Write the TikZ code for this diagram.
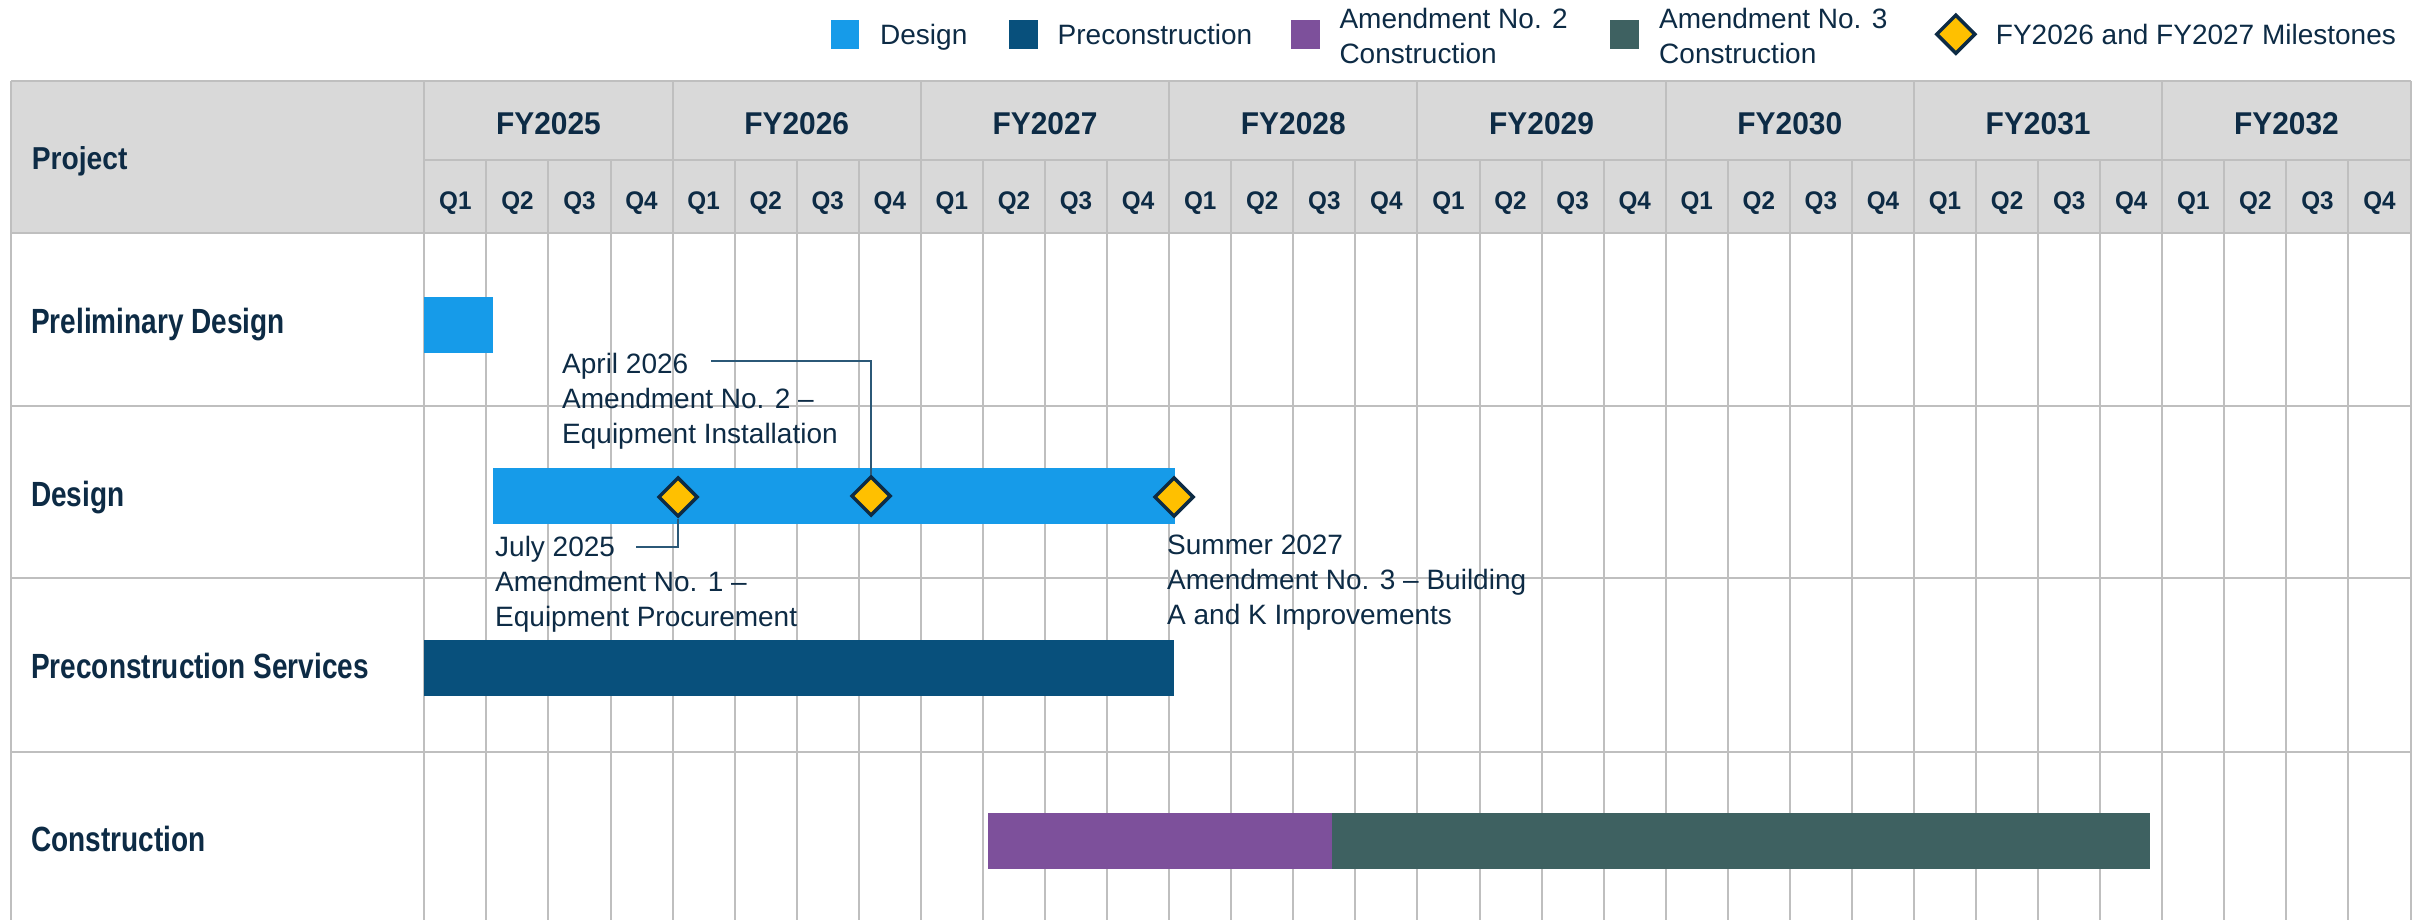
\documentclass[tikz,border=0pt]{standalone}
\usepackage{fontspec}
\setmainfont{Liberation Sans}
\newfontfamily\rowfont{Liberation Sans}[FakeStretch=0.80]
\newfontfamily\projfont{Liberation Sans}[FakeStretch=0.89]
\newfontfamily\hdrfont{Liberation Sans}[FakeStretch=0.95]
\usetikzlibrary{shapes.geometric}
\definecolor{ink}{HTML}{0D2B45}
\definecolor{gridc}{HTML}{BFBFBF}
\definecolor{hdrfill}{HTML}{D9D9D9}
\definecolor{dblue}{HTML}{169BE9}
\definecolor{pblue}{HTML}{08507C}
\definecolor{amdtwo}{HTML}{7D509B}
\definecolor{amdthree}{HTML}{3E6161}
\definecolor{gold}{HTML}{FFC000}
\definecolor{callc}{HTML}{2B5877}
\tikzset{
  gridline/.style={draw=gridc, line width=2pt},
  yearlbl/.style={anchor=base, inner sep=0pt, text=ink, font=\hdrfont\bfseries\fontsize{31.5}{38}\selectfont},
  qlbl/.style={anchor=base, inner sep=0pt, text=ink, font=\hdrfont\bfseries\fontsize{25.5}{30}\selectfont},
  rowlbl/.style={anchor=base west, inner sep=0pt, text=ink, font=\rowfont\bfseries\fontsize{35}{42}\selectfont},
  lbl/.style={anchor=base west, align=left, inner sep=0pt, text=ink, font=\fontsize{28}{35}\selectfont},
  milestone/.style={diamond, draw=ink, line width=3.5pt, fill=gold, minimum width=39.5pt, minimum height=39.5pt, inner sep=0pt},
  swatch/.style={rectangle, inner sep=0pt, minimum width=28.5pt, minimum height=28.5pt},
  callout/.style={draw=callc, line width=2pt}
}
\begin{document}
\begin{tikzpicture}[x=1pt, y=-1pt]
\useasboundingbox (0,0) rectangle (2428,920);
\fill[white] (0,0) rectangle (2428,920);
% header background
\fill[hdrfill] (10.7,81) rectangle (2410.5,232.7);
% grid
\foreach \i in {0,4,...,32} \draw[gridline] ({424.3+62.07*\i},81) -- ({424.3+62.07*\i},920);
\foreach \y in {0,...,7} \foreach \q in {1,2,3}
  \draw[gridline] ({424.3+62.07*(4*\y+\q)},160) -- ({424.3+62.07*(4*\y+\q)},920);
\draw[gridline] (10.7,81) -- (2410.5,81);
\draw[gridline] (424.3,160) -- (2410.5,160);
\foreach \yy in {232.7,405.7,578.3,751.7} \draw[gridline] (10.7,\yy) -- (2410.5,\yy);
\draw[gridline] (10.7,81) -- (10.7,920);
% header texts
\node[anchor=base west, inner sep=0pt, text=ink, font=\projfont\bfseries\fontsize{31.7}{38}\selectfont] (hproj) at (31.6,170) {Project};
\foreach \y [count=\c from 0] in {2025,...,2032}
  \node[yearlbl] (fy\y) at ({424.3+248.28*(\c+0.5)},134.3) {FY\y};
\foreach \y in {0,...,7} \foreach \q in {1,...,4}
  \node[qlbl] (q\y-\q) at ({424.3+62.07*(4*\y+\q-0.5)},209.3) {Q\q};
% row labels
\node[rowlbl] (r1) at (31,333) {Preliminary Design};
\node[rowlbl] (r2) at (31,506) {Design};
\node[rowlbl] (r3) at (31,678.3) {Preconstruction Services};
\node[rowlbl] (r4) at (31,851) {Construction};
% bars
\fill[dblue] (423.5,297) rectangle (493,353);
\fill[dblue] (493,468) rectangle (1175,524);
\fill[pblue] (423.5,640) rectangle (1174,696);
\fill[amdtwo] (988,812.7) rectangle (1332,868.7);
\fill[amdthree] (1332,812.7) rectangle (2150,868.7);
% milestones
\node[milestone] (d1) at (678,497) {};
\node[milestone] (d2) at (871,496) {};
\node[milestone] (d3) at (1174,497) {};
% callouts
\coordinate (capr) at (711,361);
\coordinate (cjul) at (636,547);
\draw[callout] (capr) -| (d2.north);
\draw[callout] (cjul) -| (d1.south);
% milestone labels (anchor = baseline of the last line)
\node[lbl] (lapr) at (562,443) {April 2026\\Amendment No. 2 –\\Equipment Installation};
\node[lbl] (ljul) at (495,626) {July 2025\\Amendment No. 1 –\\Equipment Procurement};
\node[lbl] (lsum) at (1167,624) {Summer 2027\\Amendment No. 3 – Building\\A and K Improvements};
% legend
\node[swatch, fill=dblue] (sw1) at (845,34.5) {};
\node[lbl] (lg1) at (880,45) {Design};
\node[swatch, fill=pblue] (sw2) at (1023.5,34.5) {};
\node[lbl] (lg2) at (1057.5,45) {Preconstruction};
\node[swatch, fill=amdtwo] (sw3) at (1305.5,34.5) {};
\node[lbl] (lg3) at (1339.3,63.3) {Amendment No. 2\\Construction};
\node[swatch, fill=amdthree] (sw4) at (1624.5,34.5) {};
\node[lbl] (lg4) at (1659,63.3) {Amendment No. 3\\Construction};
\node[milestone] (lgd) at (1955.8,34.2) {};
\node[lbl] (lg5) at (1995.7,45) {FY2026 and FY2027 Milestones};
\end{tikzpicture}
\end{document}
